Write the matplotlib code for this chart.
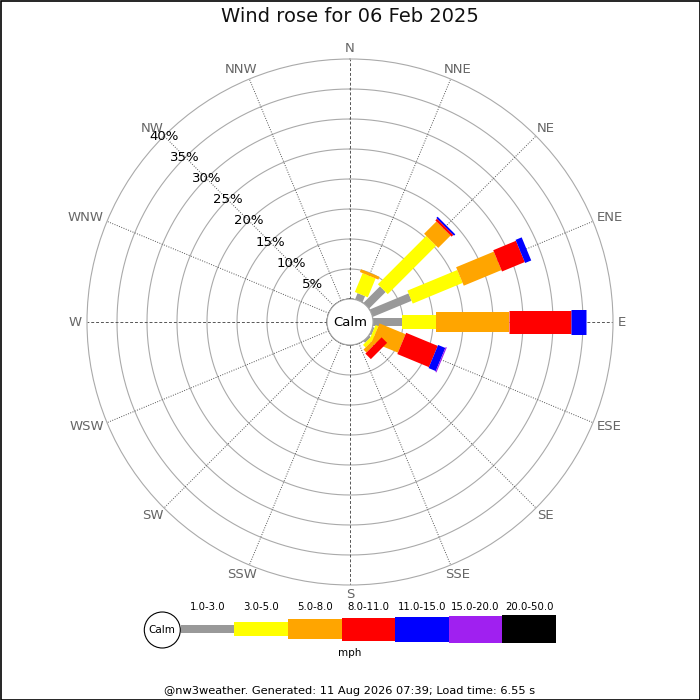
import numpy as np
import matplotlib
matplotlib.use("Agg")
import matplotlib.pyplot as plt
from matplotlib.patches import Circle, Rectangle

# Data: percentage of time per direction and speed bin (mph)
directions = ["N", "NNE", "NE", "ENE", "E", "ESE", "SE", "SSE",
              "S", "SSW", "SW", "WSW", "W", "WNW", "NW", "NNW"]
speed_bins = ["1.0-3.0", "3.0-5.0", "5.0-8.0", "8.0-11.0",
              "11.0-15.0", "15.0-20.0", "20.0-50.0"]
bin_colors = ["#999999", "#ffff00", "#ffa500", "#ff0000",
              "#0000ff", "#a020f0", "#000000"]

pct_1_3 = [0, 1.1, 3.9, 7.0, 4.8, 0.3, 0.4, 0, 0, 0, 0, 0, 0, 0, 0, 0]
pct_3_5 = [0, 3.4, 11.4, 9.0, 5.7, 0.5, 0.6, 0, 0, 0, 0, 0, 0, 0, 0, 0]
pct_5_8 = [0, 0.5, 2.9, 6.8, 12.2, 4.7, 0.7, 0, 0, 0, 0, 0, 0, 0, 0, 0]
pct_8_11 = [0, 0, 0.4, 4.1, 10.3, 5.7, 1.3, 0, 0, 0, 0, 0, 0, 0, 0, 0]
pct_11_15 = [0, 0, 0.3, 1.1, 2.5, 1.3, 0, 0, 0, 0, 0, 0, 0, 0, 0, 0]
pct_15_20 = [0, 0, 0, 0, 0, 0.2, 0, 0, 0, 0, 0, 0, 0, 0, 0, 0]
pct_20_50 = [0] * 16

ring_values = [5, 10, 15, 20, 25, 30, 35, 40]
title = "Wind rose for 06 Feb 2025"
footer = "@nw3weather. Generated: 11 Aug 2026 07:39; Load time: 6.55 s"

# bar thickness per speed bin, in pixels
bar_px = [8, 14, 20, 23, 25, 27, 28]

DPI = 100
PT = 72.0 / DPI  # points per pixel

fig = plt.figure(figsize=(7, 7), dpi=DPI)

# main polar axes: centre (350, 322), outer radius 263 px
R = 263
cx, cy = 350, 322
ax = fig.add_axes([(cx - R) / 700, (700 - cy - R) / 700, 2 * R / 700, 2 * R / 700],
                  projection="polar")
ax.set_theta_zero_location("N")
ax.set_theta_direction(-1)
rmax = 40
calm_px = 23
rorigin = calm_px / ((R - calm_px) / rmax)
ax.set_rorigin(-rorigin)
ax.set_ylim(0, rmax)
ax.set_xticks([])
ax.set_yticks([])
ax.grid(False)
ax.spines["polar"].set_color("#aaaaaa")
ax.spines["polar"].set_linewidth(0.8)
ax.spines["inner"].set_visible(False)

# rings
th = np.linspace(0, 2 * np.pi, 361)
for rv in ring_values[:-1]:
    ax.plot(th, [rv] * len(th), color="#aaaaaa", lw=0.8, zorder=1)

# spokes and direction labels (pushed out by their own size)
renderer = fig.canvas.get_renderer()
angles = np.deg2rad(np.arange(16) * 22.5)
for i, (a, d) in enumerate(zip(angles, directions)):
    ls = (0, (3, 2)) if i % 4 == 0 else (0, (1, 1.5))
    ax.plot([a, a], [0, rmax], color="#555555", lw=0.7, ls=ls, zorder=1)
    t = ax.annotate(d, xy=(a, rmax), xytext=(0, 0), textcoords="offset points",
                    color="#666666", fontsize=9.5, ha="center", va="center",
                    annotation_clip=False)
    w = t.get_window_extent(renderer).width
    h = 10
    s, c = np.sin(a), np.cos(a)
    t.xyann = ((s * 5 + s * w / 2) * PT, (c * 5 + c * h / 2) * PT)

# radial labels along NW
for rv in ring_values:
    ax.text(np.deg2rad(315), rv, f"{rv}%", fontsize=9.5, color="black",
            ha="center", va="center", zorder=5)

# bars
bins = [pct_1_3, pct_3_5, pct_5_8, pct_8_11, pct_11_15, pct_15_20, pct_20_50]
cum = np.zeros(16)
for vals, col, w in zip(bins, bin_colors, bar_px):
    vals = np.array(vals, dtype=float)
    for a, start, v in zip(angles, cum, vals):
        if v > 0:
            ax.plot([a, a], [start, start + v], color=col, lw=w * PT,
                    solid_capstyle="butt", zorder=3)
    cum = cum + vals

# overlay in pixel coordinates for calm circle, legend and text
ov = fig.add_axes([0, 0, 1, 1], facecolor="none")
ov.set_xlim(0, 700)
ov.set_ylim(700, 0)
ov.axis("off")

ov.add_patch(Circle((cx, cy), calm_px, facecolor="white", edgecolor="#aaaaaa", lw=0.8))
ov.text(cx, cy, "Calm", fontsize=9.5, ha="center", va="center")

# legend
leg_y = 629
leg_x0 = 180.7
leg_step = 53.6
ov.add_patch(Circle((162.3, leg_y + 1), 18, facecolor="white", edgecolor="black", lw=0.8))
ov.text(162.3, leg_y + 1, "Calm", fontsize=7.5, ha="center", va="center")
for i, (lab, col, w) in enumerate(zip(speed_bins, bin_colors, bar_px)):
    x = leg_x0 + i * leg_step
    ov.add_patch(Rectangle((x, leg_y - w / 2), leg_step, w, facecolor=col, edgecolor="none"))
    ov.text(x + leg_step / 2, 607, lab, fontsize=7.3, ha="center", va="center")
ov.text(350, 653, "mph", fontsize=7.5, ha="center", va="center")

ov.text(350, 17, title, fontsize=14, ha="center", va="center", color="#111111")
ov.text(350, 691, footer, fontsize=8.2, ha="center", va="center")

# figure border
ov.add_patch(Rectangle((0.5, 0.5), 699, 699, facecolor="none", edgecolor="black", lw=1.2))

fig.savefig("out.png", dpi=DPI)
